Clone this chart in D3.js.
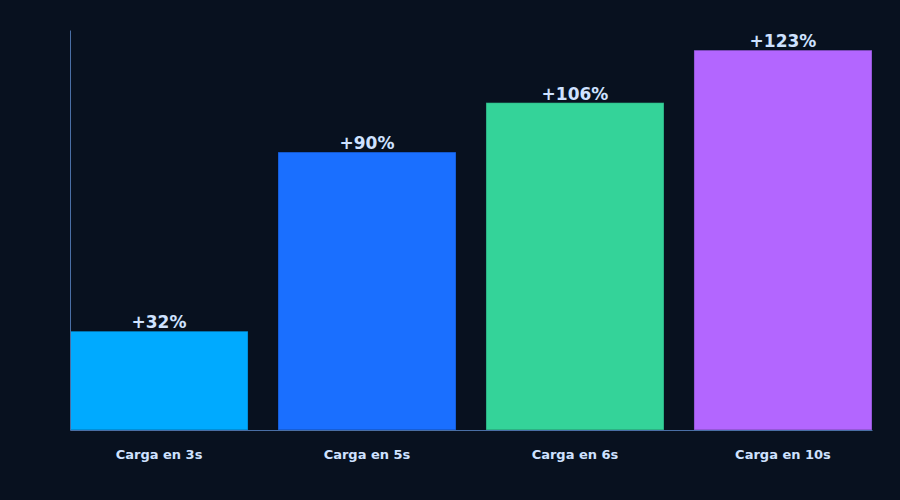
<!DOCTYPE html>
<html>
<head>
<meta charset="utf-8">
<script src="https://cdn.jsdelivr.net/npm/d3@7"></script>
<style>
  body { margin: 0; background: #08111f; }
  svg { display: block; }
</style>
</head>
<body>
<script>
var categories = ["Carga en 3s", "Carga en 5s", "Carga en 6s", "Carga en 10s"];
var values = [32, 90, 106, 123];
var barColors = ["#00aaff", "#1a6fff", "#34d399", "#b366ff"];

var w = 900, h = 500;
var margin = {top: 30, right: 28, bottom: 70, left: 70};

var svg = d3.select("body").append("svg")
    .attr("width", w)
    .attr("height", h)
    .style("background", "#08111f");

var x = d3.scaleBand()
    .domain(categories)
    .range([margin.left, w - margin.right])
    .paddingInner(0.144)
    .paddingOuter(0);

var y = d3.scaleLinear()
    .domain([0, d3.max(values) * 1.053])
    .range([h - margin.bottom, margin.top]);

// bars
svg.selectAll("rect.bar")
    .data(values)
    .enter()
    .append("rect")
    .attr("class", "bar")
    .attr("x", function (d, i) { return x(categories[i]); })
    .attr("y", function (d) { return y(d); })
    .attr("width", x.bandwidth())
    .attr("height", function (d) { return y(0) - y(d); })
    .attr("fill", function (d, i) { return barColors[i]; })
    .attr("stroke", "rgba(8,17,31,0.35)")
    .attr("stroke-width", 1);

// value labels
svg.selectAll("text.val")
    .data(values)
    .enter()
    .append("text")
    .attr("class", "val")
    .attr("x", function (d, i) { return x(categories[i]) + x.bandwidth() / 2; })
    .attr("y", function (d) { return y(d) - 3; })
    .attr("text-anchor", "middle")
    .attr("fill", "#cfe2ff")
    .style("font-family", "'DejaVu Sans', sans-serif")
    .style("font-weight", "bold")
    .style("font-size", "17px")
    .text(function (d) { return "+" + d + "%"; });

// axes
var xAxis = svg.append("g")
    .attr("transform", "translate(0," + y(0) + ")")
    .call(d3.axisBottom(x).tickSize(0).tickPadding(20));
xAxis.select(".domain").attr("stroke", "#4a6fa5");
xAxis.selectAll("text")
    .attr("fill", "#cfe2ff")
    .style("font-family", "'DejaVu Sans', sans-serif")
    .style("font-weight", "bold")
    .style("font-size", "13px");

var yAxis = svg.append("g")
    .attr("transform", "translate(" + margin.left + ",0)")
    .call(d3.axisLeft(y).tickSize(0).tickValues([]));
yAxis.select(".domain").attr("stroke", "#4a6fa5");
</script>
</body>
</html>
